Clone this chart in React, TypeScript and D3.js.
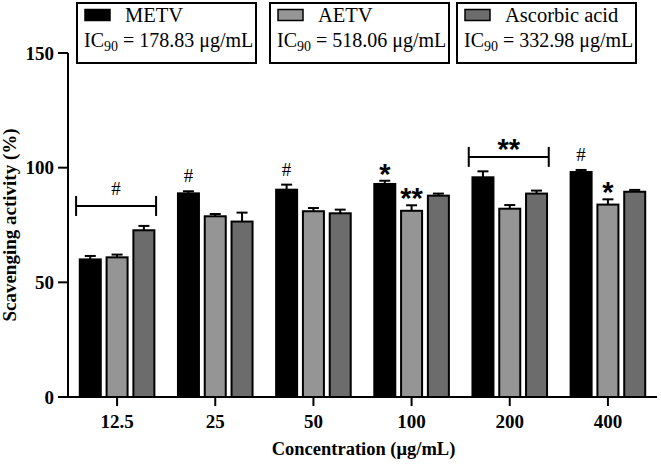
import React from 'react';
import * as d3 from 'd3';

const categories = ['12.5', '25', '50', '100', '200', '400'];
const seriesNames = ['METV', 'AETV', 'Ascorbic acid'];
const ic90Values = ['178.83', '518.06', '332.98'];
const metvMean = [60.0, 88.8, 90.4, 92.9, 95.8, 98.1];
const metvErr = [1.5, 0.9, 2.2, 1.4, 2.6, 0.9];
const aetvMean = [60.9, 78.8, 81.0, 81.2, 82.1, 83.9];
const aetvErr = [1.2, 1.0, 1.4, 2.4, 1.6, 2.3];
const ascMean = [72.7, 76.5, 80.1, 87.8, 88.7, 89.5];
const ascErr = [1.9, 3.9, 1.6, 0.9, 1.3, 0.8];
const yTicks = [0, 50, 100, 150];
const barColors = ['#000000', '#959595', '#6c6c6c'];

// significance marks placed above a given bar
const markCats = ['25', '50', '100', '100', '400', '400'];
const markSeries = [0, 0, 0, 1, 0, 1];
const markTexts = ['#', '#', '*', '**', '#', '*'];
// brackets spanning a whole group
const bracketCats = ['12.5', '200'];
const bracketLevels = [83.3, 104.7];
const bracketTexts = ['#', '**'];

const W = 661;
const H = 464;
const left = 68;
const right = 657;
const top = 53;
const bottom = 397;

export default function App() {
  const x = d3.scaleBand<string>().domain(categories).range([left, right]).padding(0);
  const y = d3.scaleLinear().domain([0, 150]).range([bottom, top]);
  const means = [metvMean, aetvMean, ascMean];
  const errs = [metvErr, aetvErr, ascErr];
  const pitch = 26.8;
  const barW = 21; // inner width; stroke adds 2
  const cx = (cat: string) => (x(cat) as number) + x.bandwidth() / 2;
  const barX = (cat: string, s: number) => cx(cat) + (s - 1) * pitch;
  const serif = '"Liberation Serif", "Times New Roman", serif';
  const sans = '"Liberation Sans", Arial, sans-serif';
  const legendX = [77, 270, 457];
  const boldProps = { fontFamily: serif, fontWeight: 'bold', fill: '#000' } as const;

  return (
    <svg width={W} height={H} style={{ position: 'absolute', left: 0, top: 0, background: '#fff' }}>
      {/* bars */}
      {means.map((arr, s) =>
        arr.map((v, i) => {
          const c = categories[i];
          const bx = barX(c, s);
          return (
            <g key={`b${s}-${i}`}>
              <line x1={bx} x2={bx} y1={y(v)} y2={y(v + errs[s][i])} stroke="#000" strokeWidth={2} />
              <line x1={bx - 5.5} x2={bx + 5.5} y1={y(v + errs[s][i])} y2={y(v + errs[s][i])} stroke="#000" strokeWidth={2} />
              <rect x={bx - barW / 2} y={y(v)} width={barW} height={y(0) - y(v)} fill={barColors[s]} stroke="#000" strokeWidth={2} />
            </g>
          );
        })
      )}
      {/* axes */}
      <line x1={left} x2={left} y1={y(150)} y2={y(0) + 1} stroke="#000" strokeWidth={2} />
      <line x1={left - 10} x2={right} y1={y(0)} y2={y(0)} stroke="#000" strokeWidth={2} />
      {yTicks.map((t) => (
        <g key={`yt${t}`}>
          <line x1={left - 10} x2={left} y1={y(t)} y2={y(t)} stroke="#000" strokeWidth={2} />
          <text x={left - 14} y={y(t)} dy="0.35em" textAnchor="end" fontSize={19} {...boldProps}>
            {t}
          </text>
        </g>
      ))}
      {categories.map((c) => (
        <g key={`xt${c}`}>
          <line x1={cx(c)} x2={cx(c)} y1={y(0)} y2={y(0) + 9} stroke="#000" strokeWidth={2} />
          <text x={cx(c)} y={428} textAnchor="middle" fontSize={19} {...boldProps}>
            {c}
          </text>
        </g>
      ))}
      <text x={(left + right) / 2 + 1} y={455} textAnchor="middle" fontSize={18.5} {...boldProps}>
        Concentration (μg/mL)
      </text>
      <text
        transform={`translate(16, ${(top + bottom) / 2}) rotate(-90)`}
        textAnchor="middle"
        fontSize={19}
        {...boldProps}
      >
        Scavenging activity (%)
      </text>
      {/* significance marks */}
      {markCats.map((c, k) => {
        const s = markSeries[k];
        const i = categories.indexOf(c);
        const topY = y(means[s][i] + errs[s][i]);
        const bx = barX(c, s);
        const isStar = markTexts[k].includes('*');
        return isStar ? (
          <text key={`m${k}`} x={bx} y={topY - 10 + 12.8} textAnchor="middle" fontFamily={sans} fontWeight="bold" fontSize={29}>
            {markTexts[k]}
          </text>
        ) : (
          <text key={`m${k}`} x={bx} y={topY - 9} textAnchor="middle" fontFamily={serif} fontSize={19}>
            {markTexts[k]}
          </text>
        );
      })}
      {bracketCats.map((c, k) => {
        const by = y(bracketLevels[k]);
        const x1 = cx(c) - 41;
        const x2 = cx(c) + 39;
        const isStar = bracketTexts[k].includes('*');
        return (
          <g key={`br${k}`}>
            <line x1={x1} x2={x2} y1={by} y2={by} stroke="#000" strokeWidth={2} />
            <line x1={x1} x2={x1} y1={by - 10} y2={by + 10} stroke="#000" strokeWidth={2} />
            <line x1={x2} x2={x2} y1={by - 10} y2={by + 10} stroke="#000" strokeWidth={2} />
            {isStar ? (
              <text x={(x1 + x2) / 2} y={by - 11 + 12.8} textAnchor="middle" fontFamily={sans} fontWeight="bold" fontSize={29}>
                {bracketTexts[k]}
              </text>
            ) : (
              <text x={(x1 + x2) / 2} y={by - 11} textAnchor="middle" fontFamily={serif} fontSize={19}>
                {bracketTexts[k]}
              </text>
            )}
          </g>
        );
      })}
      {/* legend boxes */}
      {seriesNames.map((n, s) => {
        const lx = legendX[s];
        return (
          <g key={`lg${s}`}>
            <rect x={lx} y={3} width={179} height={60} fill="#fff" stroke="#000" strokeWidth={2} />
            <rect x={lx + 8} y={9.5} width={25} height={11} fill={barColors[s]} stroke="#000" strokeWidth={1.5} />
            <text x={lx + 48} y={22} fontFamily={serif} fontSize={20.5}>
              {n}
            </text>
            <text x={lx + 7} y={47} fontFamily={serif} fontSize={20}>
              IC
              <tspan fontSize={14} dy={4}>90</tspan>
              <tspan dy={-4}> = {ic90Values[s]} μg/mL</tspan>
            </text>
          </g>
        );
      })}
    </svg>
  );
}
